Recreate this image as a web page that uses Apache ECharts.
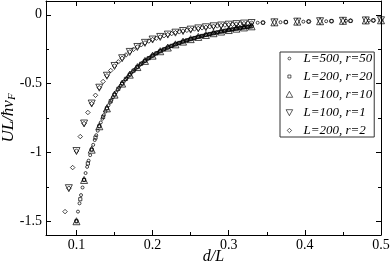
<!DOCTYPE html>
<html><head><meta charset="utf-8">
<script src="https://cdn.jsdelivr.net/npm/echarts@6/dist/echarts.min.js"></script>
<style>html,body{margin:0;padding:0;background:#fff}#c{width:390px;height:264px}</style>
</head><body><div id="c"></div>
<script>
// ---- axis ranges and ticks ----
const xRange = [0.06, 0.5];
const yRange = [-1.6, 0.1];
const xMajor = [0.1, 0.2, 0.3, 0.4, 0.5];
const xMinor = [0.15, 0.25, 0.35, 0.45];
const yMajor = [-1.5, -1, -0.5, 0];
const yMinor = [-1.25, -0.75, -0.25];

// ---- series: d values and U L / hbar v_F values ----
const names = ['L=500, r=50', 'L=200, r=20', 'L=100, r=10', 'L=100, r=1', 'L=200, r=2'];
const sizes = [500, 200, 100, 100, 200];

const d500r50 = [50,51,52,53,54,55,56,57,58,59,60,61,62,63,64,65,66,67,68,69,70,71,72,73,74,75,76,77,78,79,80,81,82,83,84,85,86,87,88,89,90,91,92,93,94,95,96,97,98,99,100,101,102,103,104,105,106,107,108,109,110,111,112,113,114,115,116,117,118,119,120,121,122,123,124,125,126,127,128,129,130,131,132,133,134,135,136,137,138,139,140,141,142,143,144,145,146,147,148,149,150,151,152,153,154,155,156,157,158,159,160,161,162,163,164,165,169,184,199,214,227,242];
const u500r50 = [-1.50,-1.43,-1.37,-1.31,-1.255,-1.20,-1.15,-1.105,-1.06,-1.02,
 -0.98,-0.945,-0.91,-0.875,-0.842,-0.81,-0.782,-0.755,-0.729,-0.704,
 -0.68,-0.658,-0.638,-0.618,-0.599,-0.58,-0.563,-0.546,-0.53,-0.515,
 -0.50,-0.486,-0.473,-0.46,-0.447,-0.435,-0.423,-0.412,-0.401,-0.39,
 -0.38,-0.37,-0.361,-0.352,-0.343,-0.335,-0.327,-0.319,-0.312,-0.304,
 -0.297,-0.29,-0.284,-0.277,-0.271,-0.265,-0.259,-0.254,-0.248,-0.243,
 -0.238,-0.233,-0.228,-0.224,-0.219,-0.215,-0.211,-0.207,-0.203,-0.199,
 -0.195,-0.191,-0.188,-0.184,-0.181,-0.177,-0.174,-0.171,-0.167,-0.164,
 -0.161,-0.158,-0.155,-0.153,-0.15,-0.147,-0.144,-0.142,-0.139,-0.137,
 -0.134,-0.132,-0.129,-0.127,-0.124,-0.122,-0.12,-0.118,-0.115,-0.113,
 -0.111,-0.109,-0.107,-0.105,-0.103,-0.101,-0.099,-0.097,-0.096,-0.094,
 -0.092,-0.09,-0.089,-0.087,-0.086,-0.084,
 -0.058,-0.054,-0.05,-0.047,-0.044,-0.042];

const d200r20 = [20,21,22,23,24,25,26,27,28,29,30,31,32,33,34,35,36,37,38,39,40,41,42,43,44,45,46,47,48,49,50,51,52,53,54,55,56,57,58,59,60,61,62,63,64,65,66,69,75,81,87,92,98];
const u200r20 = [-1.50,-1.34,-1.20,-1.08,-0.98,-0.892,-0.81,-0.742,-0.68,-0.628,
 -0.58,-0.538,-0.50,-0.466,-0.435,-0.406,-0.38,-0.356,-0.335,-0.315,
 -0.297,-0.28,-0.265,-0.251,-0.238,-0.226,-0.215,-0.205,-0.195,-0.186,
 -0.177,-0.169,-0.161,-0.154,-0.147,-0.14,-0.134,-0.128,-0.122,-0.116,
 -0.111,-0.106,-0.101,-0.097,-0.092,-0.088,-0.084,
 -0.057,-0.053,-0.049,-0.046,-0.044,-0.041];

const d100r10 = [10,11,12,13,14,15,16,17,18,19,20,21,22,23,24,25,26,27,28,29,30,31,32,33,36,39,42,45,48,50];
const u100r10 = [-1.50,-1.20,-0.98,-0.81,-0.68,-0.58,-0.50,-0.435,-0.38,-0.335,
 -0.297,-0.265,-0.238,-0.215,-0.195,-0.177,-0.161,-0.147,-0.134,-0.122,
 -0.111,-0.101,-0.092,-0.084,
 -0.055,-0.05,-0.047,-0.044,-0.041,-0.04];

const d100r1 = [9,10,11,12,13,14,15,16,17,18,19,20,21,22,23,24,25,26,27,28,29,30,31,32,33,36,39,42,45,48,50];
const u100r1 = [-1.26,-0.99,-0.79,-0.645,-0.53,-0.443,-0.372,-0.316,-0.27,-0.234,
 -0.204,-0.18,-0.161,-0.144,-0.13,-0.118,-0.108,-0.099,-0.091,-0.084,
 -0.078,-0.072,-0.068,-0.064,-0.06,
 -0.055,-0.05,-0.047,-0.044,-0.041,-0.04];

const d200r2 = [17,18,19,20,21,22,23,24,25,26,27,28,29,30,31,32,33,34,35,36,37,38,39,40,41,42,43,44,45,46,47,48,49,50,51,52,53,54,55,56,57,58,59,60,61,62,63,64,65,66,69,75,81,87,92,98];
const u200r2 = [-1.43,-1.26,-1.11,
 -0.99,-0.885,-0.79,-0.71,-0.645,-0.585,-0.53,-0.485,-0.443,-0.405,
 -0.372,-0.342,-0.316,-0.292,-0.27,-0.251,-0.234,-0.218,-0.204,-0.191,
 -0.18,-0.17,-0.161,-0.152,-0.144,-0.137,-0.13,-0.124,-0.118,-0.113,
 -0.108,-0.103,-0.099,-0.095,-0.091,-0.087,-0.084,-0.081,-0.078,-0.075,
 -0.072,-0.07,-0.068,-0.066,-0.064,-0.062,-0.06,
 -0.057,-0.053,-0.049,-0.046,-0.044,-0.041];

const dLists = [d500r50, d200r20, d100r10, d100r1, d200r2];
const uLists = [u500r50, u200r20, u100r10, u100r1, u200r2];

// ---- styles ----
const FONT = 'Liberation Serif';
const INK = '#000';
const markerStyles = [
  { symbol: 'circle', symbolSize: 3, symbolRotate: 0 },
  { symbol: 'rect', symbolSize: 3.2, symbolRotate: 0 },
  { symbol: 'triangle', symbolSize: 7, symbolRotate: 0 },
  { symbol: 'triangle', symbolSize: 7, symbolRotate: 180 },
  { symbol: 'diamond', symbolSize: 4.5, symbolRotate: 0 }
];
// legend icons drawn inside a fixed 10x10 frame so that their sizes differ like the markers
const legendIcons = [
  'path://M0,0M10,10M3.6,5A1.4,1.4,0,1,1,6.4,5A1.4,1.4,0,1,1,3.6,5Z',
  'path://M0,0M10,10M3.5,3.5L6.5,3.5L6.5,6.5L3.5,6.5Z',
  'path://M0,0M10,10M5,1.8L8.3,7.8L1.7,7.8Z',
  'path://M0,0M10,10M1.7,2.2L8.3,2.2L5,8.2Z',
  'path://M0,0M10,10M5,2.8L7.2,5L5,7.2L2.8,5Z'
];

function xAxisDef(pos, ticks, len, line, labels) {
  return {
    type: 'value', position: pos, min: xRange[0], max: xRange[1], gridIndex: 0,
    axisLine: { show: line, onZero: false, lineStyle: { color: INK, width: 1 } },
    axisTick: { show: true, inside: true, length: len, customValues: ticks, lineStyle: { color: INK, width: 1 } },
    axisLabel: { show: labels, customValues: ticks, margin: 3, fontFamily: FONT, fontSize: 14, color: INK,
      formatter: v => String(v) },
    splitLine: { show: false }, minorTick: { show: false }, nameMoveOverlap: false
  };
}
function yAxisDef(pos, ticks, len, line, labels) {
  return {
    type: 'value', position: pos, min: yRange[0], max: yRange[1], gridIndex: 0,
    axisLine: { show: line, onZero: false, lineStyle: { color: INK, width: 1 } },
    axisTick: { show: true, inside: true, length: len, customValues: ticks, lineStyle: { color: INK, width: 1 } },
    axisLabel: { show: labels, customValues: ticks, margin: 4, fontFamily: FONT, fontSize: 14, color: INK,
      formatter: v => String(v) },
    splitLine: { show: false }, minorTick: { show: false }, nameMoveOverlap: false
  };
}

const xAxes = [
  xAxisDef('bottom', xMajor, 5, true, true),
  xAxisDef('top', xMajor, 5, true, false),
  xAxisDef('bottom', xMinor, 3, false, false),
  xAxisDef('top', xMinor, 3, false, false)
];
xAxes[0].name = 'd/L';
xAxes[0].nameLocation = 'middle';
xAxes[0].nameGap = 14;
xAxes[0].nameTextStyle = { fontFamily: FONT, fontStyle: 'italic', fontSize: 16, color: INK };

const yAxes = [
  yAxisDef('left', yMajor, 5, true, true),
  yAxisDef('right', yMajor, 5, true, false),
  yAxisDef('left', yMinor, 3, false, false),
  yAxisDef('right', yMinor, 3, false, false)
];
yAxes[0].name = '{a|UL/ħv}{b|F}';
yAxes[0].nameLocation = 'middle';
yAxes[0].nameGap = 28;
yAxes[0].nameTextStyle = {
  fontFamily: FONT, fontStyle: 'italic', fontSize: 17, color: INK,
  rich: {
    a: { fontFamily: FONT, fontStyle: 'italic', fontSize: 17, color: INK },
    b: { fontFamily: FONT, fontStyle: 'italic', fontSize: 11, color: INK, padding: [8, 0, 0, 0] }
  }
};

const series = names.map((nm, i) => ({
  type: 'scatter', name: nm, xAxisIndex: 0, yAxisIndex: 0,
  symbol: markerStyles[i].symbol,
  symbolSize: markerStyles[i].symbolSize,
  symbolRotate: markerStyles[i].symbolRotate,
  itemStyle: { color: 'rgba(255,255,255,0)', borderColor: INK, borderWidth: 0.9 },
  emphasis: { disabled: true },
  data: dLists[i].map((d, k) => [d / sizes[i], uLists[i][k]])
}));

const chart = echarts.init(document.getElementById('c'), null, { renderer: 'canvas' });
chart.setOption({
  animation: false,
  backgroundColor: '#fff',
  grid: { left: 46, right: 9, top: 1, bottom: 29, containLabel: false, outerBoundsMode: 'none' },
  xAxis: xAxes,
  yAxis: yAxes,
  legend: {
    orient: 'vertical', left: 280, top: 52,
    padding: [0, 2, 0, 4], itemGap: 5, itemWidth: 10, itemHeight: 10,
    symbolRotate: 0,
    itemStyle: { borderWidth: 0.8, borderColor: INK, color: 'rgba(255,255,255,0)' },
    borderColor: '#333', borderWidth: 1, backgroundColor: '#fff',
    textStyle: { fontFamily: FONT, fontStyle: 'italic', fontSize: 13, color: INK, lineHeight: 10, padding: [0, 0, 0, 4] },
    data: names.map((nm, i) => ({ name: nm, icon: legendIcons[i] }))
  },
  series: series
});
</script>
</body></html>
